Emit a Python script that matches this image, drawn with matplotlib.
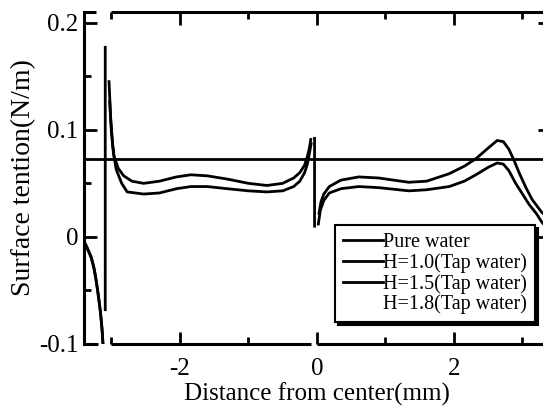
import numpy as np
import matplotlib.pyplot as plt
from matplotlib.ticker import MultipleLocator

plt.rcParams['font.family'] = ['Liberation Serif', 'DejaVu Serif']

nan = np.nan

# surface tension of pure water (N/m)
pure_water = 0.073

# H=1.0 (tap water), NaN = break in the trace
x_h10 = [-3.40, -3.36, -3.33, -3.29, -3.26, -3.23, -3.21, -3.17, -3.14, -3.12, nan,
         -3.035, -3.01, -2.98, -2.96, -2.90, -2.82, -2.70, -2.53, -2.30, -2.05, -1.84,
         -1.60, -1.31, -1.00, -0.73, -0.50, -0.34, -0.25, -0.18, -0.14, -0.11, -0.09, nan,
         -0.035, -0.035, nan,
         0.03, 0.06, 0.10, 0.18, 0.35, 0.61, 0.90, 1.34, 1.60, 1.93, 2.15, 2.32, 2.50,
         2.63, 2.72, 2.80, 2.88, 2.95, 3.05, 3.14, 3.28, 3.40]
y_h10 = [-0.004, -0.009, -0.014, -0.020, -0.027, -0.037, -0.046, -0.065, -0.083, -0.102, nan,
         0.145, 0.110, 0.085, 0.075, 0.064, 0.057, 0.052, 0.050, 0.052, 0.056, 0.058,
         0.057, 0.054, 0.050, 0.048, 0.050, 0.055, 0.060, 0.067, 0.075, 0.083, 0.091, nan,
         0.092, 0.010, nan,
         0.022, 0.033, 0.040, 0.047, 0.053, 0.056, 0.055, 0.051, 0.052, 0.059, 0.066, 0.073, 0.083,
         0.090, 0.089, 0.082, 0.071, 0.060, 0.046, 0.035, 0.023, 0.017]

# H=1.5 (tap water)
x_h15 = [-3.40, -3.35, -3.30, -3.25, -3.20, -3.16, -3.135, -3.12, nan,
         -3.09, -3.09, nan,
         -3.025, -3.00, -2.97, -2.93, -2.85, -2.77, -2.53, -2.30, -2.05, -1.84, -1.60,
         -1.31, -1.00, -0.73, -0.50, -0.34, -0.25, -0.18, -0.14, -0.11, -0.085, nan,
         0.02, 0.05, 0.10, 0.18, 0.35, 0.61, 0.90, 1.34, 1.60, 1.93, 2.15, 2.32, 2.50,
         2.63, 2.72, 2.80, 2.90, 2.99, 3.10, 3.20, 3.28, 3.40]
y_h15 = [-0.006, -0.011, -0.018, -0.031, -0.050, -0.070, -0.088, -0.105, nan,
         -0.068, 0.177, nan,
         0.126, 0.098, 0.078, 0.063, 0.050, 0.042, 0.040, 0.041, 0.045, 0.047, 0.047,
         0.045, 0.043, 0.042, 0.043, 0.047, 0.052, 0.060, 0.068, 0.078, 0.087, nan,
         0.012, 0.025, 0.034, 0.041, 0.045, 0.047, 0.046, 0.043, 0.044, 0.047, 0.052, 0.058, 0.065,
         0.069, 0.068, 0.062, 0.050, 0.041, 0.030, 0.022, 0.014, 0.005]

labels = ["Pure water", "H=1.0(Tap water)", "H=1.5(Tap water)", "H=1.8(Tap water)"]

# gaps in the frame lines (x in mm)
bottom_segs = [(-3.4, -3.2), (-3.0, -0.09), (0.0, 3.4)]
top_segs = [(-3.4, -3.22), (-3.0, 3.4)]

fig = plt.figure(figsize=(5.43, 4.08), dpi=100)
ax = fig.add_axes([0.1547, 0.1569, 0.858, 0.8137])

lw = 2.0
ax.axhline(pure_water, color='k', lw=lw, label=labels[0])
ax.plot(x_h10, y_h10, color='k', lw=lw, label=labels[1])
ax.plot(x_h15, y_h15, color='k', lw=lw, label=labels[2])
ax.plot([], [], color='w', lw=lw, label=labels[3])

ax.set_xlim(-3.4, 3.4)
ax.set_ylim(-0.1, 0.21)
ax.xaxis.set_major_locator(MultipleLocator(2))
ax.xaxis.set_minor_locator(MultipleLocator(1))
ax.yaxis.set_major_locator(MultipleLocator(0.1))
ax.yaxis.set_minor_locator(MultipleLocator(0.05))
ax.set_yticks([-0.1, 0, 0.1, 0.2])
ax.set_yticklabels(["-0.1", "0", "0.1", "0.2"])
ax.set_xticks([-2, 0, 2])
ax.set_xticklabels(["-2", "0", "2"])

ax.tick_params(which='both', direction='in', top=True, right=True, width=2, labelsize=18)
ax.tick_params(which='major', length=9)
ax.tick_params(which='minor', length=5)
ax.tick_params(axis='x', pad=10)
ax.tick_params(axis='y', pad=4)

for s in ['left', 'right']:
    ax.spines[s].set_linewidth(2.2)
ax.spines['top'].set_visible(False)
ax.spines['bottom'].set_visible(False)
tr = ax.get_xaxis_transform()
for a, b in bottom_segs:
    ax.plot([a, b], [0, 0], color='k', lw=2.2, transform=tr, clip_on=False, solid_capstyle='butt')
for a, b in top_segs:
    ax.plot([a, b], [1, 1], color='k', lw=2.2, transform=tr, clip_on=False, solid_capstyle='butt')

ax.set_xlabel("Distance from center(mm)", fontsize=18, labelpad=2)
ax.set_ylabel("Surface tention(N/m)", fontsize=20, labelpad=2)

leg = ax.legend(loc='lower right', bbox_to_anchor=(0.968, 0.065), fontsize=14.5, frameon=True,
                fancybox=False, edgecolor='k', framealpha=1, borderpad=0.4,
                handlelength=2.0, handletextpad=0.0, labelspacing=0.05,
                borderaxespad=0, shadow={'color': 'k', 'alpha': 1})
leg.get_frame().set_linewidth(1.5)

fig.savefig("out.png", dpi=100)
